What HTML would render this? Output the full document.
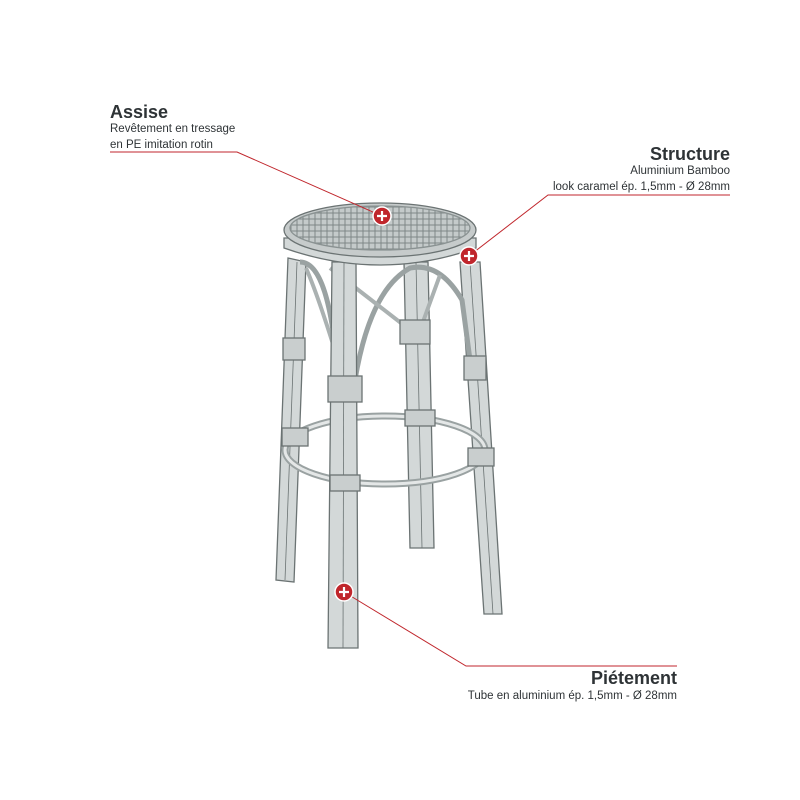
<!DOCTYPE html>
<html><head><meta charset="utf-8"><style>
body{margin:0;background:#fff;width:800px;height:800px;overflow:hidden;font-family:"Liberation Sans",sans-serif;}
.t{position:absolute;color:#2e3336;}
.h{font-weight:bold;font-size:18px;}
.s{font-size:11.5px;line-height:16px;}
</style></head><body>
<svg width="800" height="800" style="position:absolute;left:0;top:0">
<defs><pattern id="w" width="6" height="6" patternUnits="userSpaceOnUse"><rect width="6" height="6" fill="#c4caca"/><path d="M0 3h6M3 0v6" stroke="#7f8888" stroke-width="1"/></pattern></defs>
<g stroke="#6b7373" stroke-width="1.3" fill="#d3d8d8">
<path d="M404 262 L428 262 L434 548 L410 548 Z"/>
<path d="M416 262 L422 548" fill="none" stroke-width="0.8"/>
<path d="M288 258 L306 262 L294 582 L276 580 Z"/>
<path d="M297 262 L285 580" fill="none" stroke-width="0.8"/>
<path d="M460 262 L480 262 L502 614 L484 614 Z"/>
<path d="M470 262 L493 614" fill="none" stroke-width="0.8"/>
<path d="M300 262 Q330 262 338 380" fill="none" stroke-width="5" stroke="#9aa2a2"/>
<path d="M306 268 Q320 300 344 380" fill="none" stroke-width="4" stroke="#aab1b1"/>
<path d="M355 380 Q370 290 410 268 Q440 262 462 300 L470 360" fill="none" stroke-width="5" stroke="#9aa2a2"/>
<path d="M330 268 L410 330" fill="none" stroke-width="4" stroke="#aab1b1"/>
<path d="M440 275 L420 330" fill="none" stroke-width="4" stroke="#aab1b1"/>
<ellipse cx="385" cy="450" rx="100" ry="34" fill="none" stroke-width="7" stroke="#9aa2a2"/>
<ellipse cx="385" cy="450" rx="100" ry="34" fill="none" stroke-width="3" stroke="#e4e7e7"/>
<path d="M332 262 L356 262 L358 648 L328 648 Z"/>
<path d="M344 262 L343 648" fill="none" stroke-width="0.8"/>
<rect x="328" y="376" width="34" height="26" fill="#c9cece"/>
<rect x="400" y="320" width="30" height="24" fill="#c9cece"/>
<rect x="283" y="338" width="22" height="22" fill="#c9cece"/>
<rect x="464" y="356" width="22" height="24" fill="#c9cece"/>
<rect x="282" y="428" width="26" height="18" fill="#c9cece"/>
<rect x="468" y="448" width="26" height="18" fill="#c9cece"/>
<rect x="330" y="475" width="30" height="16" fill="#c9cece"/>
<rect x="405" y="410" width="30" height="16" fill="#c9cece"/>
<path d="M284 238 L284 248 Q380 282 476 248 L476 238 Z" fill="#d3d8d8"/>
<ellipse cx="380" cy="230" rx="96" ry="27" fill="#c6cbcb"/>
<ellipse cx="380" cy="228" rx="90" ry="22" fill="url(#w)" stroke="#8a9292"/>
</g>
<g stroke="#c0262c" stroke-width="1" fill="none">
<path d="M110 152 L237 152 L382 216"/>
<path d="M730 195 L548 195 L469 256"/>
<path d="M344 592 L466 666 L677 666"/>
</g>
<g fill="#c0262c" stroke="#fff" stroke-width="1.5">
<circle cx="382" cy="216" r="9"/><circle cx="469" cy="256" r="9"/><circle cx="344" cy="592" r="9"/>
</g>
<g stroke="#fff" stroke-width="2.2">
<path d="M377 216h10M382 211v10"/><path d="M464 256h10M469 251v10"/><path d="M339 592h10M344 587v10"/>
</g>
</svg>
<div class="t h" style="left:110px;top:102px">Assise</div>
<div class="t s" style="left:110px;top:121px">Revêtement en tressage<br>en PE imitation rotin</div>
<div class="t h" style="right:70px;top:144px;text-align:right">Structure</div>
<div class="t s" style="right:70px;top:163px;text-align:right">Aluminium Bamboo<br>look caramel ép. 1,5mm - Ø 28mm</div>
<div class="t h" style="right:123px;top:668px;text-align:right">Piétement</div>
<div class="t s" style="right:123px;top:688px;text-align:right">Tube en aluminium ép. 1,5mm - Ø 28mm</div>
</body></html>
